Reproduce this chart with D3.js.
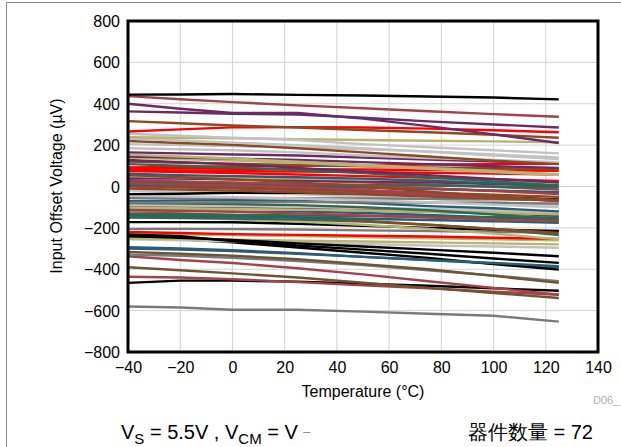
<!DOCTYPE html>
<html><head><meta charset="utf-8">
<script src="https://cdn.jsdelivr.net/npm/d3@7"></script>
<style>body{margin:0;background:#fff}svg{display:block}text{font-family:"Liberation Sans",Arial,sans-serif}</style>
</head><body><svg id="c" width="621" height="447"></svg>
<script>
const temps = [-40, -20, 0, 25, 50, 75, 100, 125];
const xTicks = [-40, -20, 0, 20, 40, 60, 80, 100, 120, 140];
const yTicks = [-800, -600, -400, -200, 0, 200, 400, 600, 800];
const palette = {
  black:"#000000", ired:"#a3424a", purple:"#6a2a68", brown:"#8b4a22", red:"#ff0000",
  silver:"#c2c2c2", khaki:"#b8b470", gray:"#7a7a7a", teal:"#2b5d78", green:"#2d6b4e", dbrown:"#6e5430"
};
const seriesColors = [
 "black","ired","purple","purple","brown","red","silver","khaki","silver","brown",
 "silver","silver","purple","khaki","purple","khaki","purple","brown","green","red",
 "red","red","teal","brown","khaki","purple","ired","ired","green","teal",
 "brown","ired","purple","brown","black","silver","gray","gray","teal","green",
 "silver","khaki","purple","ired","khaki","green","teal","brown","green","khaki",
 "black","gray","red","black","black","khaki","silver","teal","black","teal",
 "dbrown","gray","ired","dbrown","ired","black","gray","red","ired","silver",
 "teal","khaki"
];
const seriesValues = [
 [444,445,447,443,440,435,430,421],
 [437,422,408,392,378,364,350,337],
 [400,376,355,355,328,292,252,210],
 [363,358,352,348,332,315,300,285],
 [316,306,295,285,273,262,250,236],
 [266,276,286,287,285,280,272,262],
 [255,245,236,225,205,190,175,160],
 [238,236,233,229,225,221,218,214],
 [232,222,212,200,185,168,150,133],
 [220,210,202,185,165,145,125,108],
 [205,200,195,188,180,170,155,140],
 [185,180,175,165,150,138,128,118],
 [165,160,155,150,140,130,120,113],
 [154,145,135,120,105,90,75,60],
 [145,140,135,128,118,108,98,90],
 [140,132,125,115,100,85,70,55],
 [128,118,108,90,72,55,37,19],
 [120,115,110,104,98,92,88,84],
 [108,100,92,80,65,45,25,5],
 [90,88,86,84,82,80,78,76],
 [80,78,75,72,70,66,62,58],
 [75,70,65,58,50,42,35,27],
 [62,55,50,45,38,28,15,3],
 [55,45,35,20,0,-25,-48,-70],
 [50,45,42,38,34,30,25,20],
 [40,38,35,30,25,20,12,5],
 [30,25,20,12,5,-10,-22,-37],
 [15,10,5,-2,-15,-35,-52,-70],
 [20,18,15,12,8,4,0,-5],
 [10,8,5,0,-5,-12,-20,-28],
 [5,0,-5,-12,-20,-30,-40,-50],
 [0,-5,-10,-18,-28,-40,-52,-65],
 [25,20,15,8,0,-10,-20,-30],
 [-10,-15,-20,-28,-38,-48,-58,-68],
 [-37,-35,-30,-30,-35,-40,-50,-62],
 [-45,-48,-52,-58,-66,-76,-88,-100],
 [-55,-55,-55,-56,-58,-60,-62,-65],
 [-78,-78,-76,-75,-76,-78,-80,-82],
 [-70,-68,-66,-70,-80,-95,-105,-120],
 [-80,-82,-85,-90,-100,-115,-135,-159],
 [-90,-92,-95,-98,-102,-108,-115,-122],
 [-102,-105,-108,-112,-116,-122,-128,-134],
 [-95,-98,-102,-108,-115,-122,-130,-140],
 [-115,-118,-122,-130,-140,-150,-160,-167],
 [-120,-118,-115,-112,-112,-115,-120,-125],
 [-134,-135,-137,-140,-143,-146,-148,-150],
 [-140,-142,-145,-150,-156,-162,-168,-175],
 [-125,-130,-138,-150,-165,-185,-205,-225],
 [-150,-152,-155,-160,-170,-185,-205,-235],
 [-145,-150,-158,-170,-185,-205,-228,-255],
 [-172,-172,-173,-180,-190,-200,-208,-215],
 [-205,-205,-206,-208,-212,-215,-220,-223],
 [-220,-225,-230,-234,-238,-242,-248,-253],
 [-232,-240,-264,-285,-305,-325,-348,-369],
 [-240,-248,-258,-275,-290,-305,-320,-337],
 [-251,-254,-257,-262,-266,-270,-275,-280],
 [-255,-260,-265,-272,-278,-285,-290,-296],
 [-293,-300,-308,-322,-340,-355,-370,-385],
 [-245,-255,-270,-295,-320,-345,-375,-402],
 [-300,-305,-312,-325,-340,-355,-372,-392],
 [-316,-325,-335,-352,-375,-400,-432,-466],
 [-329,-335,-345,-360,-380,-405,-430,-458],
 [-337,-355,-370,-395,-425,-458,-490,-523],
 [-390,-405,-420,-440,-465,-490,-515,-539],
 [-436,-440,-448,-462,-478,-492,-508,-523],
 [-466,-455,-455,-460,-470,-480,-492,-504],
 [-580,-585,-596,-596,-605,-615,-625,-653],
 [92,95,98,100,103,106,108,110],
 [45,40,35,28,20,10,-2,-15],
 [-20,-25,-30,-38,-48,-60,-75,-90],
 [-110,-112,-115,-120,-128,-138,-150,-165],
 [-230,-232,-235,-240,-245,-250,-255,-260]
];

const svg = d3.select("#c");
const L = 128, R = 598, T = 21, B = 352;
const x = d3.scaleLinear().domain([-40, 140]).range([L, R]);
const y = d3.scaleLinear().domain([-800, 800]).range([B, T]);

// outer frame
svg.append("rect").attr("x",6.5).attr("y",2.5).attr("width",640).attr("height",470)
  .attr("fill","none").attr("stroke","#8a8a8a").attr("stroke-width",1);

// grid
svg.append("g").selectAll("line").data(xTicks.slice(1,-1)).join("line")
  .attr("x1",d=>x(d)).attr("x2",d=>x(d)).attr("y1",T).attr("y2",B)
  .attr("stroke","#d2d2d2").attr("stroke-width",1);
svg.append("g").selectAll("line").data(yTicks.slice(1,-1)).join("line")
  .attr("x1",L).attr("x2",R).attr("y1",d=>y(d)).attr("y2",d=>y(d))
  .attr("stroke","#d2d2d2").attr("stroke-width",1);

// series
const line = d3.line().x((d,i)=>x(temps[i])).y(d=>y(d));
const order = seriesValues.map((v,i)=>i).reverse();
svg.append("g").selectAll("path").data(order).join("path")
  .attr("d",i=>line(seriesValues[i]))
  .attr("fill","none").attr("stroke",i=>palette[seriesColors[i]])
  .attr("stroke-width",2.4).attr("stroke-linejoin","round");

// plot border
svg.append("rect").attr("x",L).attr("y",T).attr("width",R-L).attr("height",B-T)
  .attr("fill","none").attr("stroke","#000").attr("stroke-width",3);

// axes via d3 axis (labels only)
const xAxis = svg.append("g").attr("transform",`translate(0,${B})`)
  .call(d3.axisBottom(x).tickValues(xTicks).tickSize(0).tickPadding(10).tickFormat(d3.format("d")));
const yAxis = svg.append("g").attr("transform",`translate(${L},0)`)
  .call(d3.axisLeft(y).tickValues(yTicks).tickSize(0).tickPadding(8).tickFormat(d3.format("d")));
[xAxis, yAxis].forEach(a=>{
  a.select(".domain").remove();
  a.selectAll("text").attr("font-size",16).attr("fill","#000")
   .attr("font-family","'Liberation Sans',Arial,sans-serif");
});
yAxis.selectAll("text").attr("dy","0.35em");
xAxis.selectAll("text").attr("dy","0.71em");

svg.append("text").attr("x",363).attr("y",397).attr("text-anchor","middle")
  .attr("font-size",16).text("Temperature (°C)");
svg.append("text").attr("transform","translate(62,186) rotate(-90)").attr("text-anchor","middle")
  .attr("font-size",16).text("Input Offset Voltage (µV)");
svg.append("text").attr("x",593).attr("y",404).attr("font-size",11).attr("fill","#b0b0b0").text("D06_");

const cap = svg.append("text").attr("x",121).attr("y",439).attr("font-size",20);
cap.append("tspan").text("V");
cap.append("tspan").attr("font-size",15).attr("dy",5).text("S");
cap.append("tspan").attr("dy",-5).text(" = 5.5V , V");
cap.append("tspan").attr("font-size",15).attr("dy",5).text("CM");
cap.append("tspan").attr("dy",-5).text(" = V ");
cap.append("tspan").attr("font-size",13).attr("fill","#888").attr("dy",-3).text("–");

svg.append("text").attr("x",593).attr("y",439).attr("text-anchor","end").attr("font-size",20)
  .attr("font-family","'Noto Sans CJK SC','Liberation Sans',sans-serif").text("器件数量 = 72");
</script></body></html>
